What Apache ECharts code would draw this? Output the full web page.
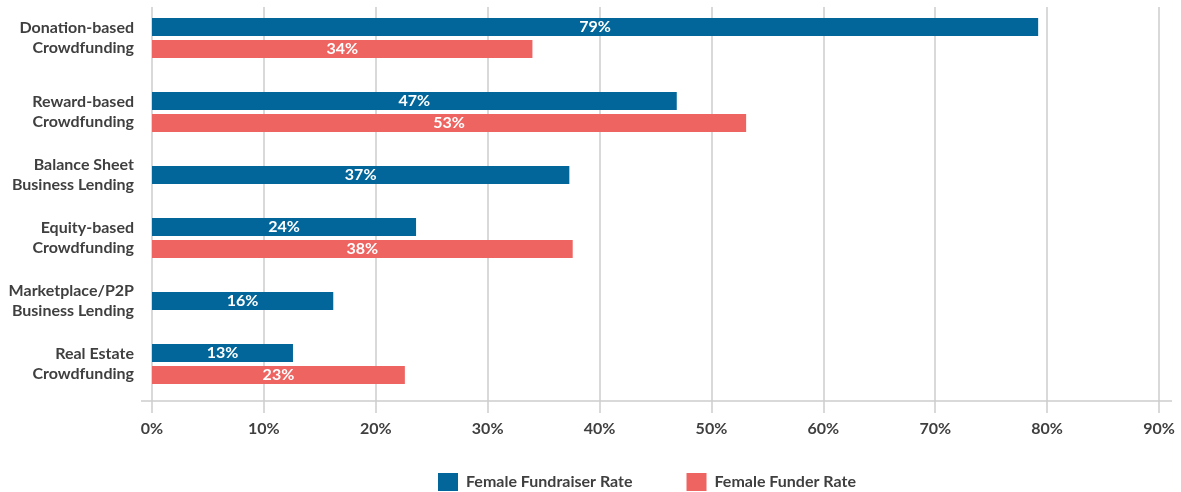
<!DOCTYPE html>
<html>
<head>
<meta charset="utf-8">
<script src="https://cdn.jsdelivr.net/npm/echarts@6/dist/echarts.min.js"></script>
<style>
  html, body { margin: 0; padding: 0; background: #fff; }
  #chart { width: 1181px; height: 492px; }
</style>
</head>
<body>
<div id="chart"></div>
<script>
  // 数据
  var categories = [
    'Donation-based\nCrowdfunding',
    'Reward-based\nCrowdfunding',
    'Balance Sheet\nBusiness Lending',
    'Equity-based\nCrowdfunding',
    'Marketplace/P2P\nBusiness Lending',
    'Real Estate\nCrowdfunding'
  ]
  var fundraiserRate = [79.2, 46.9, 37.3, 23.6, 16.2, 12.6]
  var funderRate = [34.0, 53.1, null, 37.6, null, 22.6]
  var xTicks = [0, 10, 20, 30, 40, 50, 60, 70, 80, 90]

  var BLUE = '#02669a'
  var RED = '#ee6461'
  var TEXT = '#3f3f3f'
  var GRIDLINE = '#cdcdcd'
  var FONT = 'Lato'

  // 布局：每行高度随柱子数量变化，行间距固定
  var LEFT = 152, RIGHT = 22
  var BAR = 18, BAR_GAP = 4, ROW_GAP = 34, FIRST_TOP = 18
  var PLOT_TOP = 7, PLOT_BOTTOM = 401

  var barLabel = {
    show: true,
    position: 'inside',
    color: '#fff',
    fontFamily: FONT,
    fontWeight: 'bold',
    fontSize: 16,
    formatter: function (p) { return Math.round(p.value) + '%' }
  }

  var grids = [{ left: LEFT, right: RIGHT, top: PLOT_TOP, bottom: 492 - PLOT_BOTTOM }]
  var xAxes = [{
    type: 'value',
    gridIndex: 0,
    min: 0,
    max: 90,
    interval: 10,
    axisLine: { show: false },
    axisTick: { show: true, length: 12, lineStyle: { color: GRIDLINE, width: 1.5 } },
    axisLabel: {
      margin: 20,
      color: TEXT,
      fontFamily: FONT,
      fontWeight: 'bold',
      fontSize: 16,
      formatter: function (v) { return xTicks.indexOf(v) >= 0 ? v + '%' : '' }
    },
    splitLine: { show: true, lineStyle: { color: GRIDLINE, width: 1.5 } }
  }]
  var yAxes = [{ type: 'category', gridIndex: 0, data: [''], show: false }]
  var series = []

  var rowTop = FIRST_TOP
  categories.forEach(function (cat, i) {
    var n = funderRate[i] == null ? 1 : 2
    var h = n * BAR + (n - 1) * BAR_GAP
    var gi = i + 1
    grids.push({ left: LEFT, right: RIGHT, top: rowTop, height: h })
    xAxes.push({ type: 'value', gridIndex: gi, min: 0, max: 90, show: false })
    yAxes.push({
      type: 'category',
      gridIndex: gi,
      data: [cat],
      axisLine: { show: false },
      axisTick: { show: false },
      axisLabel: {
        margin: 18,
        color: TEXT,
        fontFamily: FONT,
        fontWeight: 'bold',
        fontSize: 16,
        lineHeight: 20,
        align: 'right'
      }
    })
    series.push({
      name: 'Female Fundraiser Rate',
      type: 'bar',
      xAxisIndex: gi,
      yAxisIndex: gi,
      barWidth: BAR,
      barGap: '22%',
      itemStyle: { color: BLUE },
      label: barLabel,
      data: [fundraiserRate[i]]
    })
    if (n === 2) {
      series.push({
        name: 'Female Funder Rate',
        type: 'bar',
        xAxisIndex: gi,
        yAxisIndex: gi,
        barWidth: BAR,
        barGap: '22%',
        itemStyle: { color: RED },
        label: barLabel,
        data: [funderRate[i]]
      })
    }
    rowTop += h + ROW_GAP
  })

  var chart = echarts.init(document.getElementById('chart'))
  var option = {
    animation: false,
    grid: grids,
    xAxis: xAxes,
    yAxis: yAxes,
    legend: {
      data: ['Female Fundraiser Rate', 'Female Funder Rate'],
      left: 433,
      top: 468,
      itemWidth: 20,
      itemHeight: 18,
      itemGap: 54,
      icon: 'rect',
      textStyle: { color: TEXT, fontFamily: FONT, fontWeight: 'bold', fontSize: 16, padding: [0, 0, 0, 3] }
    },
    series: series
  }
  chart.setOption(option)

  // 底部横线，比绘图区两端略长
  var x0 = chart.convertToPixel({ xAxisIndex: 0 }, 0)
  var x1 = chart.convertToPixel({ xAxisIndex: 0 }, 90)
  chart.setOption({
    graphic: [{
      type: 'line',
      shape: { x1: x0 - 11, y1: PLOT_BOTTOM, x2: x1 + 13, y2: PLOT_BOTTOM },
      style: { stroke: GRIDLINE, lineWidth: 1.5 },
      silent: true
    }]
  })
</script>
</body>
</html>
